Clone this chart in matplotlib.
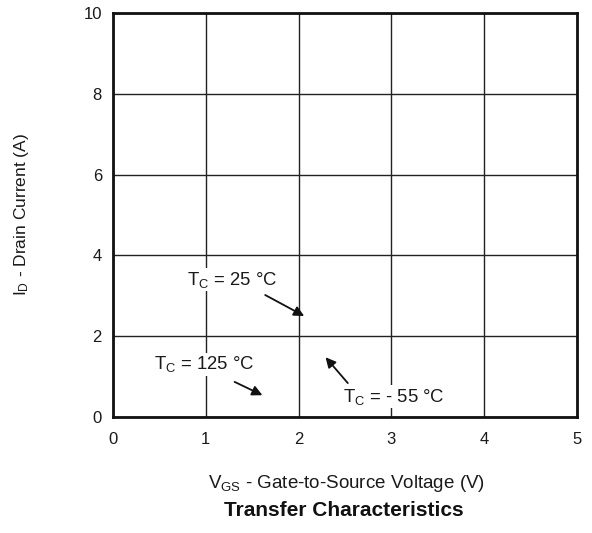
import matplotlib.pyplot as plt

plt.rcParams['font.family'] = ['Liberation Sans', 'DejaVu Sans']
plt.rcParams['mathtext.fontset'] = 'custom'
plt.rcParams['mathtext.rm'] = 'Liberation Sans'

# axis ranges and ticks
x_ticks = [0, 1, 2, 3, 4, 5]
y_ticks = [0, 2, 4, 6, 8, 10]

# temperature labels, label point and arrow (tail -> head) in data units
labels = [r'$\mathregular{T_C}$ = 25 °C', r'$\mathregular{T_C}$ = 125 °C', r'$\mathregular{T_C}$ = - 55 °C']
label_xy = [(1.28, 3.40), (0.98, 1.30), (3.02, 0.50)]
arrow_tail = [(1.64, 3.02), (1.31, 0.87), (2.53, 0.84)]
arrow_head = [(2.06, 2.50), (1.61, 0.54), (2.29, 1.48)]

fig = plt.figure(figsize=(5.92, 5.33), dpi=100)
ax = fig.add_axes([0.1909, 0.2176, 0.7838, 0.758])
ax.set_xlim(0, 5)
ax.set_ylim(0, 10)
ax.set_xticks(x_ticks)
ax.set_yticks(y_ticks)
ax.tick_params(length=0, labelsize=12, colors='#1a1a1a')
ax.tick_params(axis='x', pad=11)
ax.tick_params(axis='y', pad=8)
ax.grid(True, color='#222222', linewidth=1)
ax.set_axisbelow(True)
for s in ax.spines.values():
    s.set_linewidth(2)
    s.set_color('#111111')

for lab, xy, t, h in zip(labels, label_xy, arrow_tail, arrow_head):
    ax.text(xy[0], xy[1], lab, fontsize=13.3, ha='center', va='center', color='#1a1a1a',
            bbox=dict(facecolor='white', edgecolor='none', pad=1))
    ax.annotate('', xy=h, xytext=t,
                arrowprops=dict(arrowstyle='-|>', color='#111111', lw=1.3,
                                mutation_scale=15, shrinkA=0, shrinkB=0))

fig.text(22 / 592, 0.5966, r'$\mathregular{I_D}$ - Drain Current (A)', fontsize=12.5,
         rotation=90, ha='center', va='center', color='#1a1a1a')
fig.text(346 / 592, 1 - 484 / 533, r'$\mathregular{V_{GS}}$ - Gate-to-Source Voltage (V)', fontsize=13.5,
         ha='center', va='center', color='#1a1a1a')
fig.text(344 / 592, 1 - 510 / 533, 'Transfer Characteristics', fontsize=15, fontweight='bold',
         ha='center', va='center', color='#111111')

fig.savefig('out.png', dpi=100)
